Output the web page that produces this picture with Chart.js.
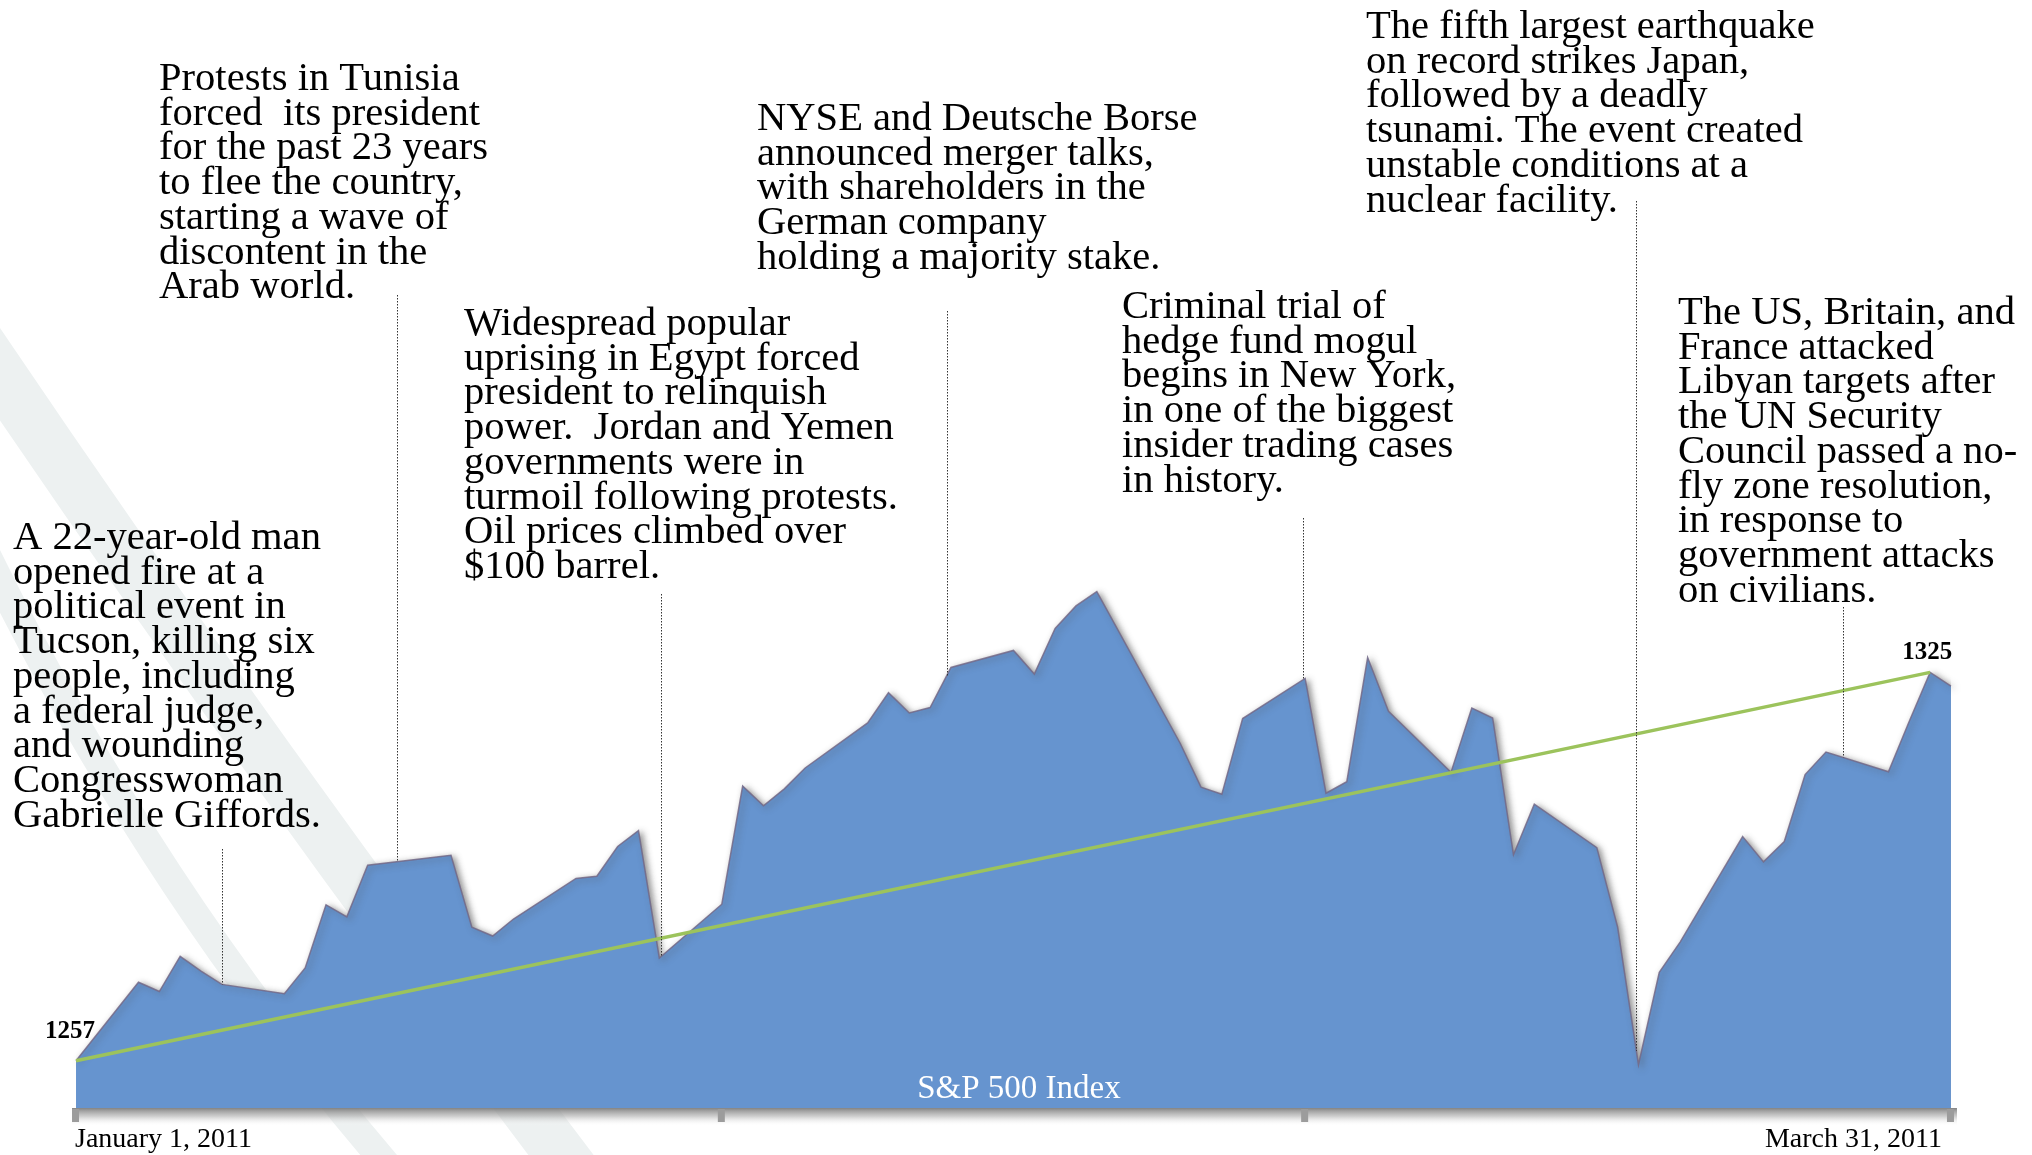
<!DOCTYPE html>
<html>
<head>
<meta charset="utf-8">
<script src="https://cdn.jsdelivr.net/npm/chart.js@4.4.0/dist/chart.umd.min.js"></script>
<style>
  html, body { margin: 0; padding: 0; background: #fff; }
  #grafico { display: block; }
</style>
</head>
<body>
<canvas id="grafico" width="2032" height="1155"></canvas>
<script>
// S&P 500, fechamentos do 1o trimestre de 2011
const dates = ['2010-12-31',
  '2011-01-03','2011-01-04','2011-01-05','2011-01-06','2011-01-07','2011-01-10','2011-01-11','2011-01-12','2011-01-13','2011-01-14',
  '2011-01-18','2011-01-19','2011-01-20','2011-01-21','2011-01-24','2011-01-25','2011-01-26','2011-01-27','2011-01-28','2011-01-31',
  '2011-02-01','2011-02-02','2011-02-03','2011-02-04','2011-02-07','2011-02-08','2011-02-09','2011-02-10','2011-02-11','2011-02-14',
  '2011-02-15','2011-02-16','2011-02-17','2011-02-18','2011-02-22','2011-02-23','2011-02-24','2011-02-25','2011-02-28',
  '2011-03-01','2011-03-02','2011-03-03','2011-03-04','2011-03-07','2011-03-08','2011-03-09','2011-03-10','2011-03-11','2011-03-14',
  '2011-03-15','2011-03-16','2011-03-17','2011-03-18','2011-03-21','2011-03-22','2011-03-23','2011-03-24','2011-03-25','2011-03-28',
  '2011-03-29','2011-03-30','2011-03-31']

const closes = [1257.6,
  1271.9, 1270.2, 1276.6, 1273.9, 1271.5, 1269.8, 1274.5, 1286.0, 1283.8, 1293.2,
  1295.0, 1281.9, 1280.3, 1283.4, 1290.8, 1291.2, 1296.6, 1299.5, 1276.3, 1286.1,
  1307.6, 1304.0, 1307.1, 1310.9, 1319.1, 1324.6, 1320.9, 1321.9, 1329.2, 1332.3,
  1328.0, 1336.3, 1340.4, 1343.0, 1315.4, 1307.4, 1306.1, 1319.9, 1327.2,
  1306.3, 1308.4, 1331.0, 1321.2, 1310.1, 1321.8, 1320.0, 1295.1, 1304.3, 1296.4,
  1281.9, 1256.9, 1273.7, 1279.2, 1298.4, 1293.8, 1297.5, 1309.7, 1313.8, 1310.2,
  1319.4, 1328.3, 1325.8]

// linha verde (tendencia)
const trendDates = ['2010-12-31', '2011-03-30']
const trendValues = [1257.6, 1328.3]

const monthEnds = ['2010-12-31', '2011-01-31', '2011-02-28', '2011-03-31']
const valueLabels = ['1257', '1325']
const axisLabels = ['January 1, 2011', 'March 31, 2011']
const seriesName = 'S&P 500 Index'

// dia de cada evento (dias desde 31/12/2010)
const eventDays = [7.0, 15.4, 28.1, 41.8, 58.9, 74.9, 84.8]

const notes = [
  ['A 22-year-old man', 'opened fire at a', 'political event in', 'Tucson, killing six', 'people, including',
   'a federal judge,', 'and wounding', 'Congresswoman', 'Gabrielle Giffords.'],
  ['Protests in Tunisia', 'forced  its president', 'for the past 23 years', 'to flee the country,',
   'starting a wave of', 'discontent in the', 'Arab world.'],
  ['Widespread popular', 'uprising in Egypt forced', 'president to relinquish', 'power.  Jordan and Yemen',
   'governments were in', 'turmoil following protests.', 'Oil prices climbed over', '$100 barrel.'],
  ['NYSE and Deutsche Borse', 'announced merger talks,', 'with shareholders in the', 'German company',
   'holding a majority stake.'],
  ['Criminal trial of', 'hedge fund mogul', 'begins in New York,', 'in one of the biggest',
   'insider trading cases', 'in history.'],
  ['The fifth largest earthquake', 'on record strikes Japan,', 'followed by a deadly',
   'tsunami. The event created', 'unstable conditions at a', 'nuclear facility.'],
  ['The US, Britain, and', 'France attacked', 'Libyan targets after', 'the UN Security',
   'Council passed a no-', 'fly zone resolution,', 'in response to', 'government attacks', 'on civilians.']
]

// posicao dos blocos de texto (px) e topo das linhas pontilhadas
const notePos = [[13, 549], [159, 90], [464, 335], [757, 130], [1122, 318], [1366, 38], [1678, 324]]
const leaderTops = [849, 295, 594, 311, 518, 201, 607]

const day0 = Date.UTC(2010, 11, 31)
const toDay = d => (Date.parse(d + 'T00:00:00Z') - day0) / 86400000

const points = dates.map((d, i) => ({ x: toDay(d), y: closes[i] }))
const trend = trendDates.map((d, i) => ({ x: toDay(d), y: trendValues[i] }))

function valueAt(day) {
  for (let i = 1; i < points.length; i++) {
    if (points[i].x >= day) {
      const a = points[i - 1], b = points[i]
      return a.y + (b.y - a.y) * (day - a.x) / (b.x - a.x)
    }
  }
  return points[points.length - 1].y
}

const FONT = '"Liberation Serif", "Times New Roman", serif'

const deco = {
  id: 'deco',
  beforeDraw(chart) {
    const c = chart.ctx
    c.save()
    c.fillStyle = '#fff'
    c.fillRect(0, 0, chart.width, chart.height)
    // faixas claras do fundo
    c.strokeStyle = '#edf1f1'
    c.lineWidth = 52
    c.beginPath()
    c.moveTo(-30, 330)
    c.quadraticCurveTo(260, 760, 580, 1180)
    c.stroke()
    c.lineWidth = 28
    c.beginPath()
    c.moveTo(-30, 520)
    c.quadraticCurveTo(140, 880, 400, 1180)
    c.stroke()
    c.restore()
  },
  beforeDatasetsDraw(chart) {
    const c = chart.ctx
    c.save()
    c.shadowColor = 'rgba(70,70,70,0.6)'
    c.shadowBlur = 6
    c.shadowOffsetX = 3
    c.shadowOffsetY = 2
  },
  beforeDatasetDraw(chart, args) {
    if (args.index === 0) chart.ctx.shadowColor = 'rgba(0,0,0,0)'
  },
  afterDatasetsDraw(chart) {
    const c = chart.ctx
    c.restore()
    const xs = chart.scales.x, ys = chart.scales.y
    const bottom = chart.chartArea.bottom
    const left = xs.getPixelForValue(0), right = xs.getPixelForValue(toDay(dates[dates.length - 1]))

    c.save()
    // base com sombra
    const g = c.createLinearGradient(0, bottom, 0, bottom + 18)
    g.addColorStop(0, 'rgba(125,125,125,0.95)')
    g.addColorStop(0.45, 'rgba(170,170,170,0.6)')
    g.addColorStop(1, 'rgba(255,255,255,0)')
    c.fillStyle = g
    c.fillRect(left - 4, bottom, right - left + 10, 18)
    c.fillStyle = '#9c9c9c'
    monthEnds.forEach(d => {
      const px = xs.getPixelForValue(toDay(d))
      c.fillRect(px - 4, bottom + 1, 7, 13)
    })

    // linhas pontilhadas
    c.strokeStyle = '#333'
    c.lineWidth = 1
    c.setLineDash([1.5, 1.5])
    eventDays.forEach((d, i) => {
      const px = Math.round(xs.getPixelForValue(d)) + 0.5
      c.beginPath()
      c.moveTo(px, leaderTops[i])
      c.lineTo(px, ys.getPixelForValue(valueAt(d)))
      c.stroke()
    })
    c.setLineDash([])

    // textos
    c.fillStyle = '#000'
    c.textBaseline = 'alphabetic'
    c.font = '40.6px ' + FONT
    notes.forEach((lines, i) => {
      lines.forEach((t, j) => c.fillText(t, notePos[i][0], notePos[i][1] + j * 34.7))
    })

    c.font = 'bold 25px ' + FONT
    c.textAlign = 'right'
    c.fillText(valueLabels[0], left + 19, ys.getPixelForValue(points[0].y) - 23)
    c.textAlign = 'center'
    const last = trend[trend.length - 1]
    c.fillText(valueLabels[1], xs.getPixelForValue(last.x) - 3, ys.getPixelForValue(last.y) - 13)

    c.font = '28px ' + FONT
    c.textAlign = 'left'
    c.fillText(axisLabels[0], left - 1, 1147)
    c.textAlign = 'right'
    c.fillText(axisLabels[1], right - 9, 1147)

    c.font = '33px ' + FONT
    c.textAlign = 'center'
    c.fillStyle = '#fff'
    c.fillText(seriesName, 1019, 1098)
    c.restore()
  }
}

const ctx = document.getElementById('grafico')

const data = {
  datasets: [{
    label: 'Trend',
    data: trend,
    borderColor: '#9cc35c',
    borderWidth: 3.5,
    pointRadius: 0,
    fill: false,
    tension: 0
  }, {
    label: seriesName,
    data: points,
    borderColor: 'rgba(115,105,135,0.85)',
    borderWidth: 1.5,
    backgroundColor: '#6694cf',
    pointRadius: 0,
    fill: 'start',
    tension: 0,
    clip: false
  }]
}

const config = {
  type: 'line',
  data,
  options: {
    responsive: false,
    animation: false,
    devicePixelRatio: 1,
    layout: { padding: { left: 65.6, right: 60.2, top: 0, bottom: 47 } },
    scales: {
      x: { type: 'linear', min: -0.5, max: 91, display: false },
      y: { min: 1249, max: 1450.7, display: false }
    },
    plugins: {
      legend: { display: false },
      tooltip: { enabled: false }
    }
  },
  plugins: [deco]
}

const graph = new Chart(ctx, config)
</script>
</body>
</html>
